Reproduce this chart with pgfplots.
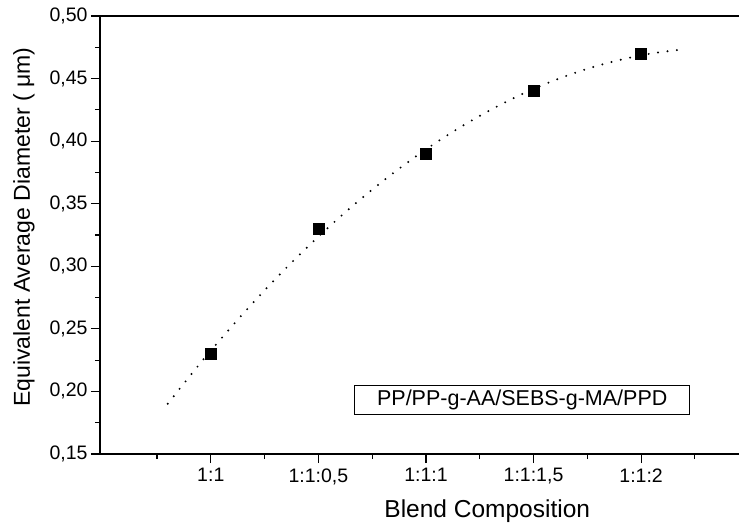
\documentclass[border=0pt]{standalone}
\usepackage{pgfplots}
\pgfplotsset{compat=1.18}
\usepackage{fontspec}
\setmainfont{Liberation Sans}
\newcommand\tickfont{\fontsize{19.5bp}{22bp}\selectfont}
\begin{document}
\begin{tikzpicture}
\begin{axis}[
  scale only axis,
  width=639bp, height=438bp,
  xmin=-1.03, xmax=4.91,
  ymin=0.15, ymax=0.50,
  separate axis lines,
  axis x line*=bottom, axis y line*=left,
  axis line style={-, line width=1.6bp, black},
  tick align=outside,
  major tick length=9bp, minor tick length=5bp,
  every tick/.style={line width=1.2bp, black},
  xtick={0,1,2,3,4},
  xticklabels={{\tickfont 1:1},{\tickfont 1:1:0,5},{\tickfont 1:1:1},{\tickfont 1:1:1,5},{\tickfont 1:1:2}},
  minor xtick={-0.5,0.5,1.5,2.5,3.5,4.5},
  ytick={0.15,0.20,0.25,0.30,0.35,0.40,0.45,0.50},
  yticklabels={{\tickfont 0,15},{\tickfont 0,20},{\tickfont 0,25},{\tickfont 0,30},{\tickfont 0,35},{\tickfont 0,40},{\tickfont 0,45},{\tickfont 0,50}},
  minor ytick={0.175,0.225,0.275,0.325,0.375,0.425,0.475},
  xticklabel style={yshift=-2bp},
  xlabel={Blend Composition},
  ylabel={Equivalent Average Diameter ( μm)},
  xlabel style={font=\fontsize{24.5bp}{28bp}\selectfont, at={(axis description cs:0.606,-0.13)}, anchor=center},
  ylabel style={font=\fontsize{23bp}{26bp}\selectfont, at={(axis description cs:-0.119,0.518)}, anchor=center},
  clip=false,
]
\draw[line width=1.6bp] (rel axis cs:0,1) -- (rel axis cs:1,1);
\addplot[black, line width=2.2bp, line cap=round, dash pattern=on 0pt off 9.5bp, smooth, tension=0.6] coordinates {
  (-0.4,0.1902) (0,0.2326) (0.5,0.2808) (1,0.3237) (1.5,0.3612) (2,0.3934)
  (2.5,0.4202) (3,0.4417) (3.5,0.4578) (4,0.4686) (4.4,0.4734)
};
\addplot[only marks, mark=square*, mark size=5.5bp, black] coordinates {
  (0,0.23) (1,0.33) (2,0.39) (3,0.44) (4,0.47)
};
\node[draw, line width=0.9bp, minimum width=335bp, minimum height=29bp, inner sep=0pt,
  font=\fontsize{21.5bp}{24bp}\selectfont] at (axis cs:2.895,0.1928) {PP/PP-g-AA/SEBS-g-MA/PPD};
\end{axis}
\pgfresetboundingbox
\path ([shift={(-100bp,-69bp)}]current axis.south west) rectangle ([shift={(0bp,16bp)}]current axis.north east);
\end{tikzpicture}
\end{document}
